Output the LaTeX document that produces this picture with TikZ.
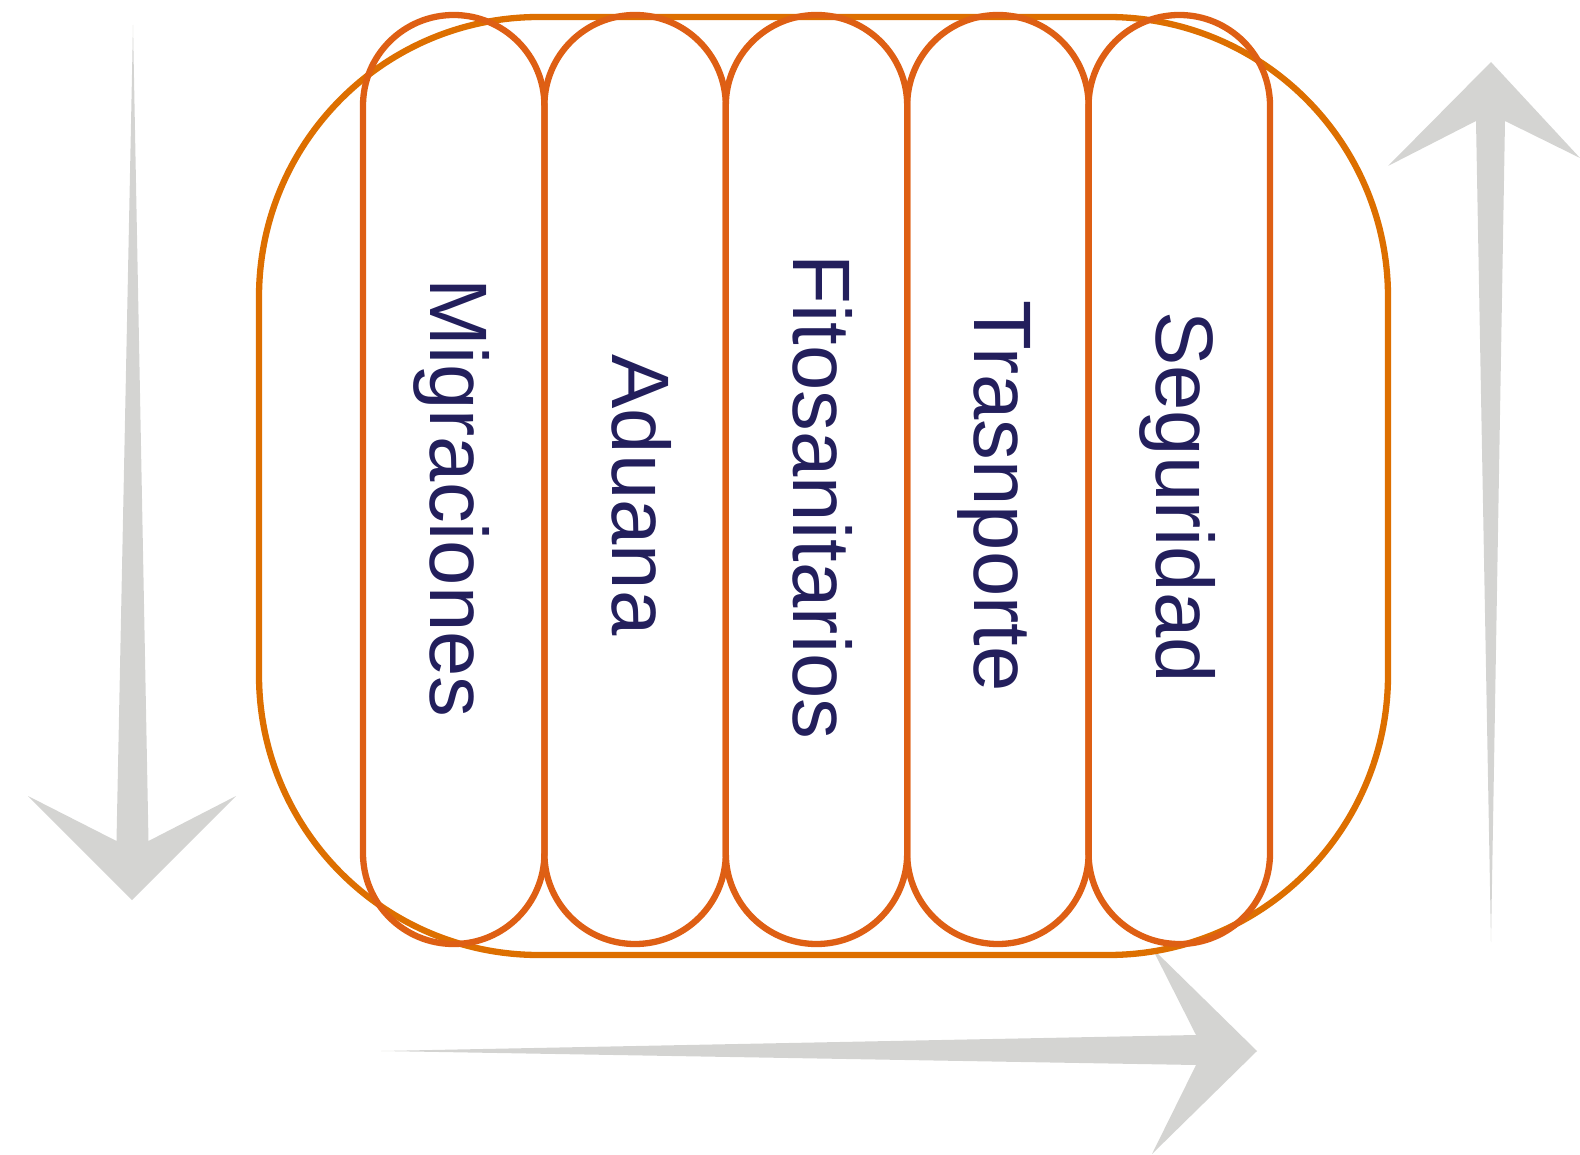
\documentclass[tikz,border=0pt]{standalone}
\usepackage{fontspec}
\setmainfont{Liberation Sans}
\definecolor{framecol}{RGB}{221,111,0}
\definecolor{pillcol}{RGB}{222,95,20}
\definecolor{navy}{RGB}{35,31,92}
\definecolor{arrowgray}{RGB}{212,212,210}
\tikzset{
  frame/.style={draw=framecol, line width=6.3pt, rounded corners=280pt, inner sep=0pt, outer sep=0pt,
    minimum width=1129pt, minimum height=938pt},
  pill/.style={draw=pillcol, line width=6.3pt, rounded corners=90.6pt, inner sep=0pt, outer sep=0pt,
    minimum width=181.4pt, minimum height=929pt},
  lbl/.style={text=navy, font=\fontsize{81.5}{90}\selectfont, rotate=-90, anchor=base, inner sep=0pt},
  bigarrow/.style={fill=arrowgray}
}
\begin{document}
\begin{tikzpicture}[x=1pt,y=-1pt]
\useasboundingbox (0,0) rectangle (1580,1155);
% grey arrows
\fill[bigarrow] (133,25) -- (148.5,841) -- (236,796) -- (132,900) -- (28,796) -- (116.5,841) -- cycle;
\fill[bigarrow] (1491,942) -- (1505,121) -- (1580,158) -- (1491,62) -- (1388,166) -- (1476,121) -- cycle;
\fill[bigarrow] (381,1051) -- (1196,1035) -- (1152,948) -- (1257,1051) -- (1152,1154) -- (1196,1065) -- cycle;
% frame
\node[frame] (outer) at (823.5,486) {};
% pills
\node[pill] (p1) at (453.7,479.5) {};
\node[pill] (p2) at (635.1,479.5) {};
\node[pill] (p3) at (816.5,479.5) {};
\node[pill] (p4) at (997.9,479.5) {};
\node[pill] (p5) at (1179.3,479.5) {};
% labels
\node[lbl] (t1) at (430.7,498) {Migraciones};
\node[lbl] (t2) at (612.1,495) {Aduana};
\node[lbl] (t3) at (793.5,497) {Fitosanitarios};
\node[lbl] (t4) at (974.9,496) {Trasnporte};
\node[lbl] (t5) at (1156.3,497) {Seguridad};
\end{tikzpicture}
\end{document}
